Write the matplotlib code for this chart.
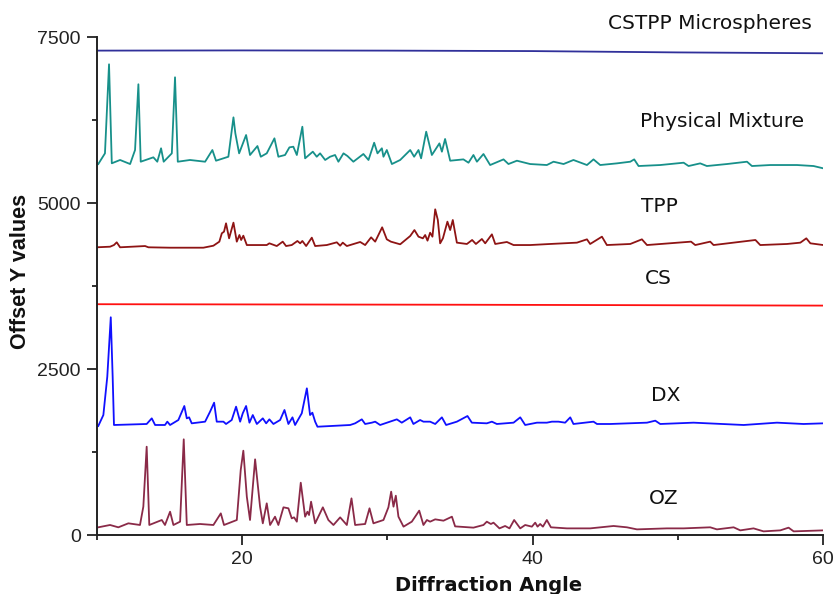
import matplotlib
matplotlib.use('Agg')
import matplotlib.pyplot as plt
from matplotlib.ticker import MultipleLocator

# diffraction patterns, points (angle, offset intensity)
cstpp_x = [10.0, 20.0, 30.0, 40.0, 50.0, 60.0]
cstpp_y = [7295, 7298, 7295, 7288, 7268, 7255]

pm_x = [10.12, 10.58, 10.86, 11.05, 11.62, 12.31, 12.65, 12.88, 13.04, 13.91, 14.18, 14.44, 14.62, 15.18, 15.40,
        15.59, 16.43, 17.47, 17.97, 18.22, 19.07, 19.42, 19.55, 19.81, 20.29, 20.56, 21.07, 21.30, 21.71, 22.24,
        22.51, 22.97, 23.27, 23.54, 23.78, 24.16, 24.35, 24.88, 25.15, 25.38, 25.73, 26.07, 26.41, 26.64, 26.99,
        27.26, 27.67, 28.36, 28.71, 29.10, 29.33, 29.63, 29.74, 29.97, 30.32, 30.89, 31.58, 31.85, 32.15, 32.33,
        32.68, 33.07, 33.59, 33.76, 33.98, 34.33, 35.24, 35.59, 35.93, 36.17, 36.62, 37.08, 38.00, 38.34, 38.92,
        39.83, 40.98, 41.44, 42.13, 42.81, 43.74, 44.19, 44.65, 45.80, 46.72, 46.99, 47.29, 48.78, 50.39, 50.73,
        51.53, 51.99, 53.37, 54.75, 55.09, 56.35, 58.19, 59.33, 60.0]
pm_y = [5587, 5748, 7089, 5598, 5648, 5587, 5798, 6788, 5622, 5688, 5622, 5824, 5622, 5748, 6893,
        5622, 5648, 5622, 5798, 5637, 5697, 6290, 6049, 5748, 6024, 5723, 5858, 5697, 5748, 5974,
        5697, 5723, 5838, 5848, 5723, 6149, 5673, 5773, 5697, 5748, 5648, 5697, 5723, 5622, 5748,
        5708, 5622, 5738, 5648, 5908, 5748, 5824, 5697, 5798, 5587, 5648, 5798, 5697, 5798, 5673,
        6074, 5723, 5898, 5773, 5964, 5637, 5657, 5607, 5723, 5622, 5738, 5572, 5657, 5587, 5637,
        5587, 5572, 5622, 5587, 5648, 5572, 5657, 5572, 5597, 5622, 5657, 5557, 5572, 5607, 5557,
        5597, 5557, 5587, 5622, 5557, 5572, 5572, 5557, 5522]

tpp_x = [10.01, 10.93, 11.20, 11.39, 11.62, 13.34, 13.57, 15.06, 17.35, 18.04, 18.45, 18.62, 18.77, 18.91, 19.12,
         19.42, 19.65, 19.83, 19.95, 20.10, 20.34, 21.71, 21.89, 22.40, 22.81, 23.04, 23.43, 23.82, 24.01, 24.16,
         24.42, 24.81, 25.04, 25.84, 26.53, 26.76, 26.94, 27.22, 28.14, 28.48, 28.89, 29.17, 29.65, 29.97, 30.25,
         30.89, 31.58, 31.87, 32.15, 32.45, 32.61, 32.77, 32.95, 33.11, 33.30, 33.48, 33.64, 33.83, 34.14, 34.33,
         34.51, 34.79, 35.48, 35.84, 36.10, 36.51, 36.74, 37.20, 37.43, 38.23, 38.69, 39.83, 41.21, 43.05, 43.74,
         43.96, 44.77, 45.11, 46.72, 47.52, 47.87, 50.90, 51.19, 52.22, 52.45, 55.33, 55.66, 57.50, 58.42, 58.83,
         59.11, 60.0]
tpp_y = [4333, 4342, 4367, 4408, 4333, 4352, 4333, 4327, 4327, 4357, 4418, 4544, 4568, 4694, 4468,
         4704, 4418, 4518, 4443, 4508, 4367, 4367, 4393, 4352, 4418, 4352, 4367, 4428, 4393, 4428,
         4352, 4478, 4352, 4367, 4408, 4357, 4403, 4352, 4413, 4367, 4483, 4418, 4634, 4453, 4418,
         4378, 4503, 4593, 4493, 4468, 4518, 4433, 4553, 4493, 4905, 4744, 4393, 4468, 4719, 4593,
         4744, 4403, 4383, 4443, 4383, 4458, 4393, 4528, 4383, 4413, 4367, 4367, 4383, 4403, 4453,
         4383, 4493, 4367, 4383, 4453, 4367, 4418, 4367, 4418, 4367, 4443, 4367, 4383, 4403, 4468,
         4393, 4367]

cs_x = [10.0, 35.0, 60.0]
cs_y = [3476, 3468, 3455]

dx_x = [10.12, 10.47, 10.74, 10.98, 11.11, 11.20, 13.45, 13.80, 14.03, 14.71, 14.87, 15.06, 15.63, 16.04, 16.21,
        16.37, 16.55, 17.47, 17.81, 18.09, 18.27, 18.73, 18.91, 19.30, 19.60, 19.88, 20.06, 20.29, 20.52, 20.75,
        21.03, 21.44, 21.67, 21.89, 22.17, 22.63, 22.93, 23.20, 23.48, 23.66, 24.12, 24.47, 24.69, 24.85, 25.04,
        25.20, 27.45, 27.79, 28.25, 28.48, 28.94, 29.17, 29.51, 30.66, 31.00, 31.58, 31.80, 32.26, 32.49, 32.95,
        33.30, 33.76, 34.05, 34.79, 35.52, 35.82, 36.85, 37.20, 37.54, 38.69, 39.15, 39.49, 40.30, 40.98, 41.33,
        41.78, 42.24, 42.59, 42.81, 44.19, 44.43, 45.34, 47.87, 48.44, 48.78, 51.07, 54.52, 56.81, 58.64, 60.0]
dx_y = [1642, 1807, 2384, 3279, 2384, 1657, 1672, 1757, 1657, 1657, 1707, 1657, 1732, 1943, 1757,
        1772, 1682, 1707, 1857, 1993, 1707, 1707, 1672, 1732, 1933, 1707, 1833, 1943, 1692, 1807,
        1672, 1757, 1682, 1742, 1672, 1732, 1883, 1672, 1772, 1657, 1833, 2209, 1807, 1842, 1707,
        1631, 1657, 1682, 1742, 1672, 1692, 1707, 1657, 1742, 1692, 1772, 1672, 1732, 1707, 1707,
        1672, 1772, 1657, 1707, 1792, 1692, 1682, 1707, 1672, 1692, 1772, 1657, 1692, 1692, 1707,
        1707, 1692, 1772, 1672, 1707, 1672, 1672, 1692, 1722, 1672, 1692, 1657, 1692, 1672, 1682]

oz_x = [10.12, 10.93, 11.50, 12.19, 12.99, 13.22, 13.45, 13.63, 14.49, 14.71, 15.06, 15.29, 15.75, 16.00, 16.21,
        17.12, 18.04, 18.55, 18.77, 19.65, 19.92, 20.10, 20.34, 20.56, 20.91, 21.25, 21.44, 21.71, 21.94, 22.28,
        22.51, 22.86, 23.20, 23.43, 23.59, 23.78, 24.05, 24.35, 24.51, 24.62, 24.76, 25.04, 25.57, 25.95, 26.30,
        26.76, 27.22, 27.54, 27.79, 28.48, 28.78, 29.05, 29.74, 30.08, 30.27, 30.43, 30.59, 30.77, 31.12, 31.69,
        32.20, 32.49, 32.73, 32.95, 33.30, 33.87, 34.45, 34.67, 35.93, 36.62, 36.85, 37.13, 37.31, 37.72, 38.11,
        38.41, 38.73, 39.15, 39.49, 39.95, 40.18, 40.34, 40.52, 40.71, 40.98, 41.26, 42.36, 43.96, 45.57, 46.49,
        47.18, 49.24, 50.39, 52.22, 52.68, 53.83, 54.29, 55.20, 55.89, 57.04, 57.61, 57.96, 60.0]
oz_y = [116, 151, 116, 176, 151, 427, 1330, 151, 226, 151, 351, 151, 201, 1441, 151,
        166, 151, 326, 151, 226, 979, 1270, 577, 226, 1140, 427, 176, 477, 151, 276,
        151, 417, 402, 251, 266, 201, 788, 276, 351, 301, 502, 176, 417, 226, 151,
        266, 151, 552, 151, 166, 402, 176, 226, 417, 653, 427, 592, 276, 126, 201,
        367, 151, 226, 201, 236, 216, 276, 130, 111, 151, 201, 166, 186, 100, 136,
        100, 226, 100, 151, 126, 186, 126, 166, 126, 226, 116, 100, 100, 136, 116,
        85, 100, 100, 116, 85, 116, 70, 100, 55, 70, 111, 55, 70]

series = [
    (cstpp_x, cstpp_y, '#30309a', 'CSTPP Microspheres', 45.2, 7705),
    (pm_x, pm_y, '#17908a', 'Physical Mixture', 47.36, 6224),
    (tpp_x, tpp_y, '#8e1414', 'TPP', 47.45, 4944),
    (cs_x, cs_y, '#ff1010', 'CS', 47.75, 3866),
    (dx_x, dx_y, '#1010ff', 'DX', 48.14, 2108),
    (oz_x, oz_y, '#8a2a48', 'OZ', 47.98, 552),
]

fig = plt.figure(figsize=(8.35, 5.94), dpi=100)
ax = fig.add_axes([0.1156, 0.0993, 0.8704, 0.8384])

for xs, ys, col, name, tx, ty in series:
    ax.plot(xs, ys, color=col, linewidth=1.3)
    ax.text(tx, ty, name, color='#111111', fontsize=14.5, family='DejaVu Sans',
            ha='left', va='center', clip_on=False)

ax.set_xlim(10, 60)
ax.set_ylim(0, 7500)
ax.xaxis.set_major_locator(MultipleLocator(20))
ax.xaxis.set_minor_locator(MultipleLocator(10))
ax.yaxis.set_major_locator(MultipleLocator(2500))
ax.yaxis.set_minor_locator(MultipleLocator(1250))

for side in ['top', 'right']:
    ax.spines[side].set_visible(False)
for side in ['left', 'bottom']:
    ax.spines[side].set_linewidth(1.4)
    ax.spines[side].set_color('#222222')

ax.tick_params(which='major', direction='out', length=7.2, width=1.3, color='#222222', pad=4,
               labelsize=14, labelcolor='#222222')
ax.tick_params(which='minor', direction='out', length=3.8, width=1.3, color='#222222')
for lab in ax.get_xticklabels() + ax.get_yticklabels():
    lab.set_family('Liberation Sans')

ax.set_xlabel('Diffraction Angle', fontsize=14, fontweight='bold', color='#111111')
ax.set_ylabel('Offset Y values', fontsize=15.5, fontweight='bold', color='#111111',
              family='Liberation Sans')
ax.xaxis.set_label_coords(0.539, -0.083)
ax.yaxis.set_label_coords(-0.09, 0.53)

plt.savefig('out.png', dpi=100)
